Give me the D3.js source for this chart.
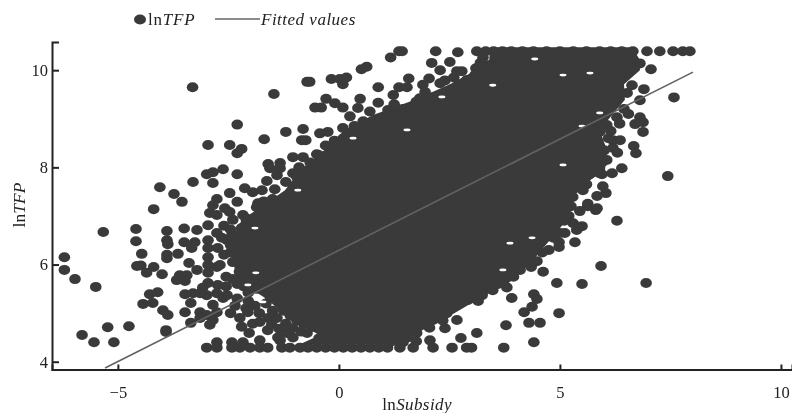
<!DOCTYPE html>
<html>
<head>
<meta charset="utf-8">
<script src="https://cdn.jsdelivr.net/npm/d3@7"></script>
<style>
html,body{margin:0;padding:0;background:#fff;}
svg{display:block;filter:blur(0.45px);}
text{font-family:"Liberation Serif",serif;fill:#222;}
</style>
</head>
<body>
<div id="chart"></div>
<script>
var width = 792, height = 413;

// points readable one by one, [lnSubsidy, lnTFP]
var upper_points = [
	[-3.31,9.65],[-1.47,9.51],[-0.72,9.76],[-0.66,9.76],[-0.17,9.82],[0.02,9.82],[0.17,9.85],[0.09,9.71],
	[0.51,10.02],[0.63,10.07],[0.89,9.65],[1.17,10.26],[1.36,10.39],[-2.30,8.88],[-2.96,8.46],[-2.47,8.46],
	[-2.20,8.38],[-2.30,8.29],[-1.69,8.58],[-1.20,8.73],[-0.81,8.79],[-0.84,8.56],[-0.75,8.56],[-0.54,9.23],
	[-0.40,9.23],[-0.29,9.41],[-0.09,9.32],[0.09,9.23],[0.48,9.41],[0.43,9.22],[0.25,9.05],[0.89,9.33],
	[1.11,9.18],[1.23,9.49],[1.36,9.65],[-0.43,8.70],[-0.25,8.73],[0.09,8.81],[-1.04,8.21],[-0.81,8.21],
	[-0.50,8.27],[-1.60,8.07],[-1.33,8.09],[-1.56,7.98],[-1.33,7.98],[-1.04,7.88],[-1.63,7.72],[-1.40,7.84],
	[-2.99,7.86],[-2.85,7.90],[-2.62,7.96],[-2.30,7.86],[-3.30,7.70],[-2.85,7.68],[-4.05,7.59],[-3.73,7.45],
	[-3.55,7.29],[-4.19,7.14],[-2.76,7.35],[-2.47,7.47],[-2.30,7.29],[-2.85,7.22],[-2.58,7.16],[-2.13,7.57],
	[-1.95,7.49],[-1.74,7.53],[-1.83,7.26],[1.43,10.39],[2.19,10.39],[2.69,10.37],[3.12,10.39],[2.10,10.15],
	[2.29,10.00],[2.51,10.17],[2.67,9.98],[2.78,9.98],[1.58,9.83],[2.04,9.83],[2.40,9.79],[2.29,9.73],
	[3.10,10.04],[3.08,9.90],[3.26,10.26],[1.95,9.55],[1.83,9.42],[2.10,9.44],[1.54,9.65],
	[1.90,9.70],[1.75,9.35],[1.45,9.20],[1.25,9.30],[0.95,9.00],[0.70,9.15],[0.55,8.95],[0.35,8.85],[0.60,8.80],
	[0.10,8.60],[-0.10,8.55],[-0.30,8.45],[-0.45,8.25],[-0.65,8.10],[-0.90,8.00],[-0.95,7.80],[-1.20,7.70],
	[-1.45,7.55],[-1.50,7.35],[-1.70,7.30],[-1.55,7.10],[2.60,9.85],[2.90,9.80],[3.30,9.95],[3.20,10.15],
	[3.60,10.25],[3.40,10.10]
];
var left_points = [
	[-5.33,6.67],[-4.59,6.73],[-4.59,6.48],[-4.46,6.22],[-4.57,5.97],[-4.48,5.98],[-6.21,6.15],[-6.21,5.89],
	[-5.97,5.70],[-5.50,5.54],[-4.35,5.83],[-4.19,5.95],[-4.00,5.80],[-3.89,6.69],[-3.89,6.50],[-3.87,6.42],
	[-3.89,6.20],[-3.89,6.13],[-3.64,6.22],[-3.50,6.74],[-3.21,6.71],[-3.50,6.46],[-3.26,6.46],[-3.33,6.34],
	[-3.39,6.03],[-3.21,5.89],[-3.60,5.78],[-3.44,5.78],[-3.67,5.68],[-3.48,5.66],[-4.28,5.39],[-4.10,5.43],
	[-4.43,5.19],[-4.21,5.21],[-3.98,5.06],[-3.87,4.96],[-3.48,5.02],[-3.35,5.21],[-3.48,5.39],[-3.30,5.41],
	[-5.81,4.55],[-5.54,4.40],[-5.09,4.40],[-5.23,4.71],[-4.75,4.73],[-3.91,4.65],[-3.91,4.61],[-3.35,4.80],
	[-3.14,5.02],[-2.99,4.96],[-2.85,4.86],[-2.92,4.76],[-2.76,5.02],[-3.14,4.90],[-3.08,5.52],[-2.96,5.62],
	[-2.74,5.58],[-2.76,5.41],[-2.99,5.37],[-2.62,5.31],[-3.14,5.41],[-2.85,5.17],[-2.53,5.37],[-2.96,6.50],
	[-2.96,6.34],[-2.96,6.15],[-2.96,5.99],[-2.96,5.83],[-2.74,6.34],[-2.76,5.95],[-2.69,5.99],[-2.53,6.50],
	[-2.92,7.06],[-2.96,6.81],[-2.76,7.02],[-2.76,6.65],[-2.40,6.92],[-2.17,7.02],[-2.47,7.08],[-1.86,7.18],
	[-2.42,6.60],[-2.20,6.75],[-2.25,6.30],[-2.40,6.05],[-2.25,5.85],[-2.40,5.70],[-2.15,5.55],[-2.30,5.30],
	[-2.05,5.25],[-2.10,6.95],[-2.00,6.50],[-2.45,6.25],
	[-2.60,6.80],[-2.45,6.72],[-2.25,6.62],[-2.00,6.80],[-1.85,6.95],[-1.85,6.65],[-1.95,6.35],[-2.65,6.55],
	[-2.60,6.20],[-2.45,6.40],[-2.15,6.15],[-2.20,6.45],[-2.00,6.10],[-2.55,5.75],[-2.10,5.85],[-1.95,5.65],
	[-2.30,5.60],[-2.55,5.55],[-2.05,5.42],[-1.85,5.50],[-2.35,5.15],[-2.10,5.10],[-1.90,5.15],[-1.65,5.20],
	[-1.55,5.35],[-1.80,5.00],[-1.50,5.05],[-1.40,4.90],[-1.60,4.90],[-1.25,5.05],[-1.10,4.95],[-0.95,4.85],
	[-0.80,4.78],[-0.60,4.72],[-0.40,4.65],[-0.85,4.62],[-0.45,4.48],[-0.25,4.50],[-0.05,4.45],[-2.45,5.00],
	[-2.20,4.72],[-1.95,4.78],[-1.20,4.78],[-1.35,4.68]
];
var lower_points = [
	[-2.76,4.40],[-2.42,4.40],[-2.17,4.40],[-1.79,4.44],[-1.33,4.44],[-1.38,4.50],[-2.03,4.59],[-1.61,4.65],
	[-2.24,4.90],[-1.79,4.82],[-2.06,5.02],[-1.52,4.76],[-1.04,4.69],[-1.18,4.59],[-1.04,4.50],[-0.72,4.59],
	[3.12,4.59],[2.76,4.49],[2.40,4.69],[2.67,4.86],[2.06,4.44],[3.48,5.47],[3.24,5.37],[2.92,5.27],
	[2.67,5.17],[2.44,5.00],[2.13,4.86],[1.76,4.59],[3.80,5.53],[3.91,5.31],[3.78,4.75],[4.30,4.80],
	[4.55,4.80],[4.41,4.40],[4.98,5.00],[4.19,5.02],[4.37,5.13],[4.41,5.39],[4.48,5.29],
	[3.95,5.75],[3.75,5.70],[3.60,5.60],[3.35,5.60],[3.10,5.50],[3.15,5.25],[2.85,5.40],[2.55,5.30],[2.45,5.15],
	[2.20,5.00],[2.35,4.85],[2.05,4.70],[1.85,4.80],[1.55,4.50],[1.75,4.42],[1.45,4.40],[1.20,4.42]
];
var right_points = [
	[6.29,6.90],[5.81,7.12],[5.63,7.20],[5.50,6.79],[5.38,6.71],[5.11,6.65],[5.34,6.46],[4.98,6.46],[4.98,6.36],
	[4.48,6.07],[4.62,5.85],[4.93,5.62],[5.50,5.60],[6.95,5.62],[5.93,5.97],[4.10,5.89],[3.94,5.95],
	[7.06,10.02],[6.81,10.14],[6.65,10.06],[6.90,9.61],[7.58,9.44],[6.63,9.69],[6.52,9.53],[6.81,9.38],[6.29,9.38],
	[6.81,9.03],[6.88,8.93],[6.70,8.89],[6.88,8.73],[6.67,8.44],[6.72,8.29],[6.40,7.98],[6.18,7.88],[5.95,7.86],
	[7.44,7.82],[5.97,7.61],[6.04,7.47],[5.84,7.41],[5.52,7.53],[5.29,7.39],[5.63,7.25],[5.84,7.16],[6.20,8.56],
	[6.36,8.56],[6.20,8.40],[6.29,9.03],[6.06,8.87],[5.90,8.73],[6.06,8.15],[5.84,8.21],[5.90,8.42],[5.90,7.88],[5.45,8.00],
	[6.10,9.50],[6.00,9.30],[6.45,9.20],[6.55,9.10],[6.35,8.90],[6.15,8.75],[6.30,8.30],[6.10,8.60],[6.00,8.35],
	[5.75,8.60],[5.95,8.10],[5.75,8.00],[5.65,7.85],[5.60,7.65],[5.40,7.70],[5.30,7.55],[5.25,7.20],[5.45,7.10],
	[5.20,7.00],[5.30,6.85],[5.10,6.90],[5.00,6.65],[4.85,6.55],[4.75,6.30],[4.60,6.25],[4.40,6.30],[4.35,5.95],[4.10,6.10]
];

// censored rows: many firms sit on the min and max of lnTFP
var top_value = 10.39;
var top_row = [3.32,3.50,3.70,3.90,4.15,4.40,4.70,5.00,5.30,5.60,5.90,6.15,6.40,6.65,6.97,7.26,7.56,7.78,7.94];
var bottom_value = 4.29;
var bottom_row = [-2.99,-2.76,-2.42,-2.24,-2.01,-1.79,-1.61,-1.29,-1.11,-0.88,-0.70,-0.50,-0.30,-0.10,0.10,0.30,0.50,0.70,0.90,1.10,1.38,1.68,2.13,2.56,2.89,3.00,3.73];

// the core is solid ink, points can't be told apart there: keep its outline per lnTFP level
var core_level = [10.47,10.21,10.00,9.71,9.39,9.08,8.77,8.36,7.94,7.53,7.22,6.92,6.50,6.09,5.68,5.27,4.86,4.55,4.36];
var core_low = [3.42,3.40,3.10,2.51,1.72,0.77,0.14,-0.32,-0.88,-1.22,-1.70,-2.20,-2.40,-2.40,-2.30,-1.60,-1.11,-0.43,-0.88];
var core_high = [6.63,6.81,6.81,6.45,6.47,6.18,5.90,6.06,6.02,5.34,5.29,5.16,4.77,4.39,3.94,3.12,2.35,1.67,1.27];

// small white gaps left inside the core
var core_gaps = [
	[0.32,8.60],[-0.93,7.53],[-1.90,6.75],[-2.06,5.58],[-1.88,5.83],[1.54,8.77],[5.68,9.94],[5.07,9.90],[4.43,10.23],
	[2.33,9.45],[3.48,9.69],[5.90,9.12],[5.50,8.85],[5.07,8.05],[4.37,6.55],[3.87,6.44],[3.71,5.89],[-1.72,5.23]
];

var fit_x = [-5.29,8.01];
var fit_y = [3.87,9.96];

var x_ticks = [-5,0,5,10];
var y_ticks = [4,6,8,10];

var svg = d3.select("#chart").append("svg")
			.attr("width",width)
			.attr("height",height);

var x = d3.scaleLinear().domain([-6.49,10.25]).range([52,792]);
var y = d3.scaleLinear().domain([3.84,10.58]).range([369.5,42]);

var ink = "#3a3a3a";

var core_area = d3.area()
				  .y(function(d,i){ return y(core_level[i]); })
				  .x0(function(d,i){ return x(core_low[i]); })
				  .x1(function(d,i){ return x(core_high[i]); });

svg.append("path")
   .attr("d",core_area(core_level))
   .attr("fill",ink);

var all_points = upper_points.concat(left_points,lower_points,right_points,
	top_row.map(function(d){ return [d,top_value]; }),
	bottom_row.map(function(d){ return [d,bottom_value]; }));

svg.append("g").selectAll("ellipse")
   .data(all_points)
   .enter()
   .append("ellipse")
   .attr("cx",function(d){ return x(d[0]); })
   .attr("cy",function(d){ return y(d[1]); })
   .attr("rx",5.8)
   .attr("ry",5)
   .attr("fill",ink);

svg.append("g").selectAll("ellipse")
   .data(core_gaps)
   .enter()
   .append("ellipse")
   .attr("cx",function(d){ return x(d[0]); })
   .attr("cy",function(d){ return y(d[1]); })
   .attr("rx",3.5)
   .attr("ry",1.4)
   .attr("fill","#fff");

svg.append("line")
   .attr("x1",x(fit_x[0]))
   .attr("y1",y(fit_y[0]))
   .attr("x2",x(fit_x[1]))
   .attr("y2",y(fit_y[1]))
   .attr("stroke","#626262")
   .attr("stroke-width",1.6);

var x_axis = svg.append("g")
				.attr("transform","translate(0," + 369.5 + ")")
				.call(d3.axisBottom(x).tickValues(x_ticks).tickFormat(d3.format("d")).tickSize(-5).tickPadding(17));
var y_axis = svg.append("g")
				.attr("transform","translate(" + 52 + ",0)")
				.call(d3.axisLeft(y).tickValues(y_ticks).tickFormat(d3.format("d")).tickSize(-7).tickPadding(4));

[x_axis,y_axis].forEach(function(a){
	a.selectAll(".domain").attr("stroke","#222").attr("stroke-width",2);
	a.selectAll(".tick line").attr("stroke","#222").attr("stroke-width",2);
	a.selectAll("text").style("font-family","'Liberation Serif',serif").style("font-size","16.5px").attr("fill","#222");
});

// axis titles
var x_title = svg.append("text").attr("x",417).attr("y",410).attr("text-anchor","middle").style("font-size","17px").style("letter-spacing","0.4px");
x_title.append("tspan").text("ln");
x_title.append("tspan").style("font-style","italic").text("Subsidy");

var y_title = svg.append("text")
				 .attr("transform","translate(25,205) rotate(-90)")
				 .attr("text-anchor","middle")
				 .style("font-size","17.5px");
y_title.append("tspan").text("ln");
y_title.append("tspan").style("font-style","italic").text("TFP");

// legend
svg.append("ellipse").attr("cx",140).attr("cy",19.5).attr("rx",6).attr("ry",5).attr("fill",ink);
var legend_a = svg.append("text").attr("x",148).attr("y",25).style("font-size","17px").style("letter-spacing","0.8px");
legend_a.append("tspan").text("ln");
legend_a.append("tspan").style("font-style","italic").text("TFP");

svg.append("line").attr("x1",215).attr("x2",260).attr("y1",19).attr("y2",19)
   .attr("stroke","#666").attr("stroke-width",1.6);
svg.append("text").attr("x",261).attr("y",25).style("font-size","17px").style("letter-spacing","0.5px").style("font-style","italic").text("Fitted values");
</script>
</body>
</html>
